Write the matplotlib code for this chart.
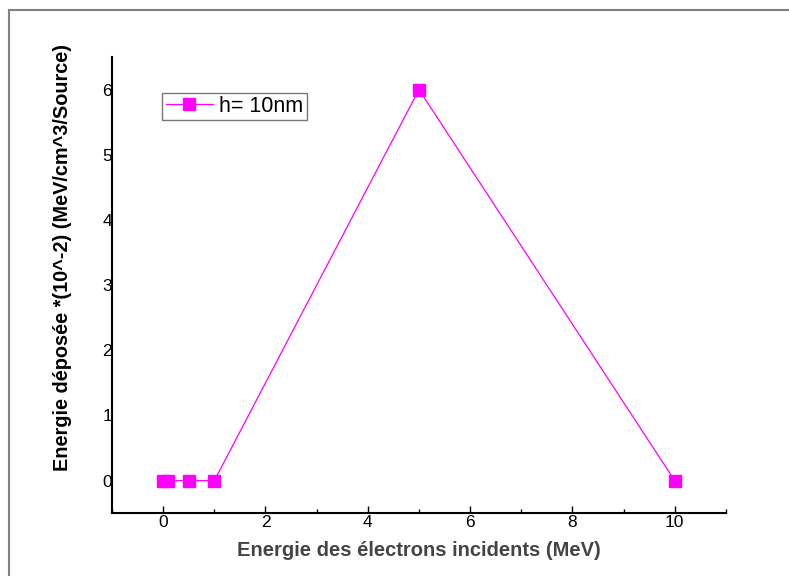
import matplotlib
matplotlib.use("Agg")
import matplotlib.pyplot as plt
from matplotlib.patches import Rectangle
from matplotlib.ticker import MultipleLocator

plt.rcParams['font.family'] = ['Liberation Sans', 'DejaVu Sans']

# donnees
energie_e = [0, 0.1, 0.5, 1, 5, 10]
energie_dep = [0, 0, 0, 0, 6, 0]
serie = 'h= 10nm'

fig = plt.figure(figsize=(7.89, 5.76), dpi=100)
ax = fig.add_axes([0.142, 0.109, 0.778, 0.792])

# cadre gris autour de la figure
fig.patches.append(Rectangle((9/789, -0.05), 1.1, 0.05 + 1 - 10/576,
                             transform=fig.transFigure, fill=False,
                             edgecolor='#808080', linewidth=1.5))

ax.plot(energie_e, energie_dep, color='#FF00FF', linewidth=0.9,
        marker='s', markersize=8, label=serie)

ax.set_xlim(-1, 11)
ax.set_ylim(-0.5, 6.5)
ax.xaxis.set_major_locator(MultipleLocator(2))
ax.xaxis.set_minor_locator(MultipleLocator(1))
ax.yaxis.set_major_locator(MultipleLocator(1))

ax.spines['top'].set_visible(False)
ax.spines['right'].set_visible(False)
ax.spines['left'].set_linewidth(1.5)
ax.spines['bottom'].set_linewidth(1.5)
ax.tick_params(axis='x', direction='in', length=5, width=1, labelsize=12.5, pad=1)
ax.tick_params(axis='x', which='minor', direction='in', length=3, width=1)
ax.tick_params(axis='y', direction='in', length=0, labelsize=12.5, pad=0)

ax.set_xlabel('Energie des électrons incidents (MeV)', fontsize=14.5,
              fontweight='bold', color='#444444', labelpad=8)
ax.set_ylabel('Energie déposée *(10^-2) (MeV/cm^3/Source)', fontsize=14.3,
              fontweight='bold', color='black')
ax.yaxis.set_label_coords(-0.066, 0.56)

leg = ax.legend(loc='upper left', bbox_to_anchor=(0.082, 0.922), fontsize=15.5,
                frameon=True, fancybox=False, borderpad=0.15,
                handlelength=2.2, handletextpad=0.3, borderaxespad=0)
leg.get_frame().set_edgecolor('#555555')
leg.get_frame().set_linewidth(1)

fig.savefig('out.png', dpi=100)
